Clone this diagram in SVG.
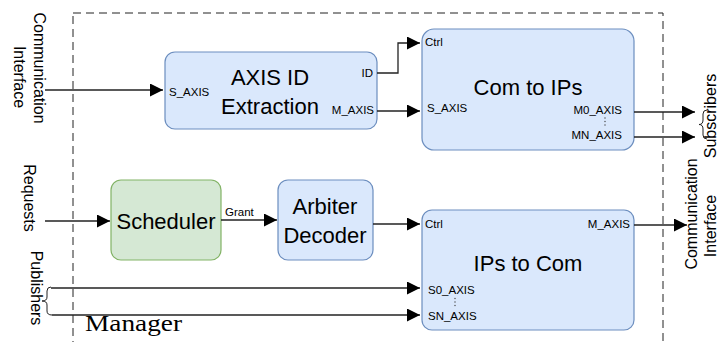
<svg xmlns="http://www.w3.org/2000/svg" width="719" height="342" viewBox="0 0 719 342">
<style>
.bl{fill:#dae8fc;stroke:#6c8ebf;stroke-width:1.2}
.gr{fill:#d5e8d4;stroke:#82b366;stroke-width:1.2}
.big{font-family:"Liberation Sans",Arial,sans-serif;font-size:22px;fill:#000;text-anchor:middle}
.sm{font-family:"Liberation Sans",Arial,sans-serif;font-size:11.5px;fill:#000}
.ext{font-family:"Liberation Sans",Arial,sans-serif;font-size:16px;fill:#000;text-anchor:middle}
.ln{fill:none;stroke:#222;stroke-width:1.3}
.br{fill:none;stroke:#222;stroke-width:1}
.dot{fill:#444}
</style>
<defs>
<marker id="ah" markerUnits="userSpaceOnUse" markerWidth="14" markerHeight="13" refX="13" refY="6.5" orient="auto">
<path d="M0,0 L13,6.5 L0,13 z" fill="#000"/>
</marker>
</defs>
<rect width="719" height="342" fill="#fff"/>

<g id="manager">
<rect x="73" y="13" width="590" height="345" fill="none" stroke="#222" stroke-width="1" stroke-dasharray="8 5"/>
<text x="85" y="331" font-family="Liberation Serif,'Times New Roman',serif" font-size="24" textLength="97" lengthAdjust="spacingAndGlyphs">Manager</text>
</g>

<g id="axis-id-extraction">
<rect class="bl" x="165" y="52" width="212" height="77" rx="10"/>
<text class="big" x="270" y="85">AXIS ID</text>
<text class="big" x="270" y="114">Extraction</text>
<text class="sm" x="169" y="96">S_AXIS</text>
<text class="sm" x="373" y="77" text-anchor="end">ID</text>
<text class="sm" x="374" y="114" text-anchor="end">M_AXIS</text>
</g>

<g id="com-to-ips">
<rect class="bl" x="422" y="29" width="212" height="121" rx="12"/>
<text class="big" x="528" y="95">Com to IPs</text>
<text class="sm" x="425" y="46">Ctrl</text>
<text class="sm" x="427" y="112">S_AXIS</text>
<text class="sm" x="622" y="114" text-anchor="end">M0_AXIS</text>
<circle class="dot" cx="605" cy="118" r="0.7"/>
<circle class="dot" cx="605" cy="121.5" r="0.7"/>
<circle class="dot" cx="605" cy="125" r="0.7"/>
<text class="sm" x="622" y="139" text-anchor="end">MN_AXIS</text>
</g>

<g id="scheduler">
<rect class="gr" x="111" y="180" width="110" height="80" rx="10"/>
<text class="big" x="166" y="229">Scheduler</text>
</g>

<g id="arbiter-decoder">
<rect class="bl" x="278" y="180" width="95" height="80" rx="10"/>
<text class="big" x="325" y="214">Arbiter</text>
<text class="big" x="325" y="243">Decoder</text>
</g>

<g id="ips-to-com">
<rect class="bl" x="422" y="210" width="212" height="120" rx="10"/>
<text class="big" x="528" y="271">IPs to Com</text>
<text class="sm" x="425" y="228">Ctrl</text>
<text class="sm" x="630" y="228" text-anchor="end">M_AXIS</text>
<text class="sm" x="428" y="294">S0_AXIS</text>
<circle class="dot" cx="455" cy="298.5" r="0.7"/>
<circle class="dot" cx="455" cy="302" r="0.7"/>
<circle class="dot" cx="455" cy="305.5" r="0.7"/>
<text class="sm" x="428" y="320">SN_AXIS</text>
</g>

<g id="external-labels">
<text class="ext" transform="translate(34,68) rotate(90)">Communication</text>
<text class="ext" transform="translate(14,77) rotate(90)">Interface</text>
<text class="ext" transform="translate(24,198) rotate(90)">Requests</text>
<text class="ext" transform="translate(31,288) rotate(90)">Publishers</text>
<text class="ext" transform="translate(716,116) rotate(-90)">Subscribers</text>
<text class="ext" transform="translate(697,214) rotate(-90)">Communication</text>
<text class="ext" transform="translate(716,226) rotate(-90)">Interface</text>
</g>

<g id="connectors">
<path class="ln" d="M45,90 H163" marker-end="url(#ah)"/>
<path class="ln" d="M377,73 H398 V43 H420" marker-end="url(#ah)"/>
<path class="ln" d="M377,111 H420" marker-end="url(#ah)"/>
<path class="ln" d="M634,112 H695" marker-end="url(#ah)"/>
<path class="ln" d="M634,137 H695" marker-end="url(#ah)"/>
<path class="ln" d="M45,221 H110" marker-end="url(#ah)"/>
<path class="ln" d="M221,220 H277" marker-end="url(#ah)"/>
<text class="sm" x="225" y="216" font-size="11">Grant</text>
<path class="ln" d="M373,224 H420" marker-end="url(#ah)"/>
<path class="ln" d="M634,225 H687" marker-end="url(#ah)"/>
<path class="ln" d="M51,288 H420" marker-end="url(#ah)"/>
<path class="ln" d="M52,315 H420" marker-end="url(#ah)"/>
<path class="br" d="M51,287 Q47,287 47,291 L47,297 Q47,301 42,301 Q47,301 47,305 L47,311 Q47,315 52,315"/>
<path class="br" d="M707,110 Q703,110 703,114 L703,120 Q703,124.5 699,124.5 Q703,124.5 703,129 L703,135 Q703,139 707,139"/>
</g>
</svg>
